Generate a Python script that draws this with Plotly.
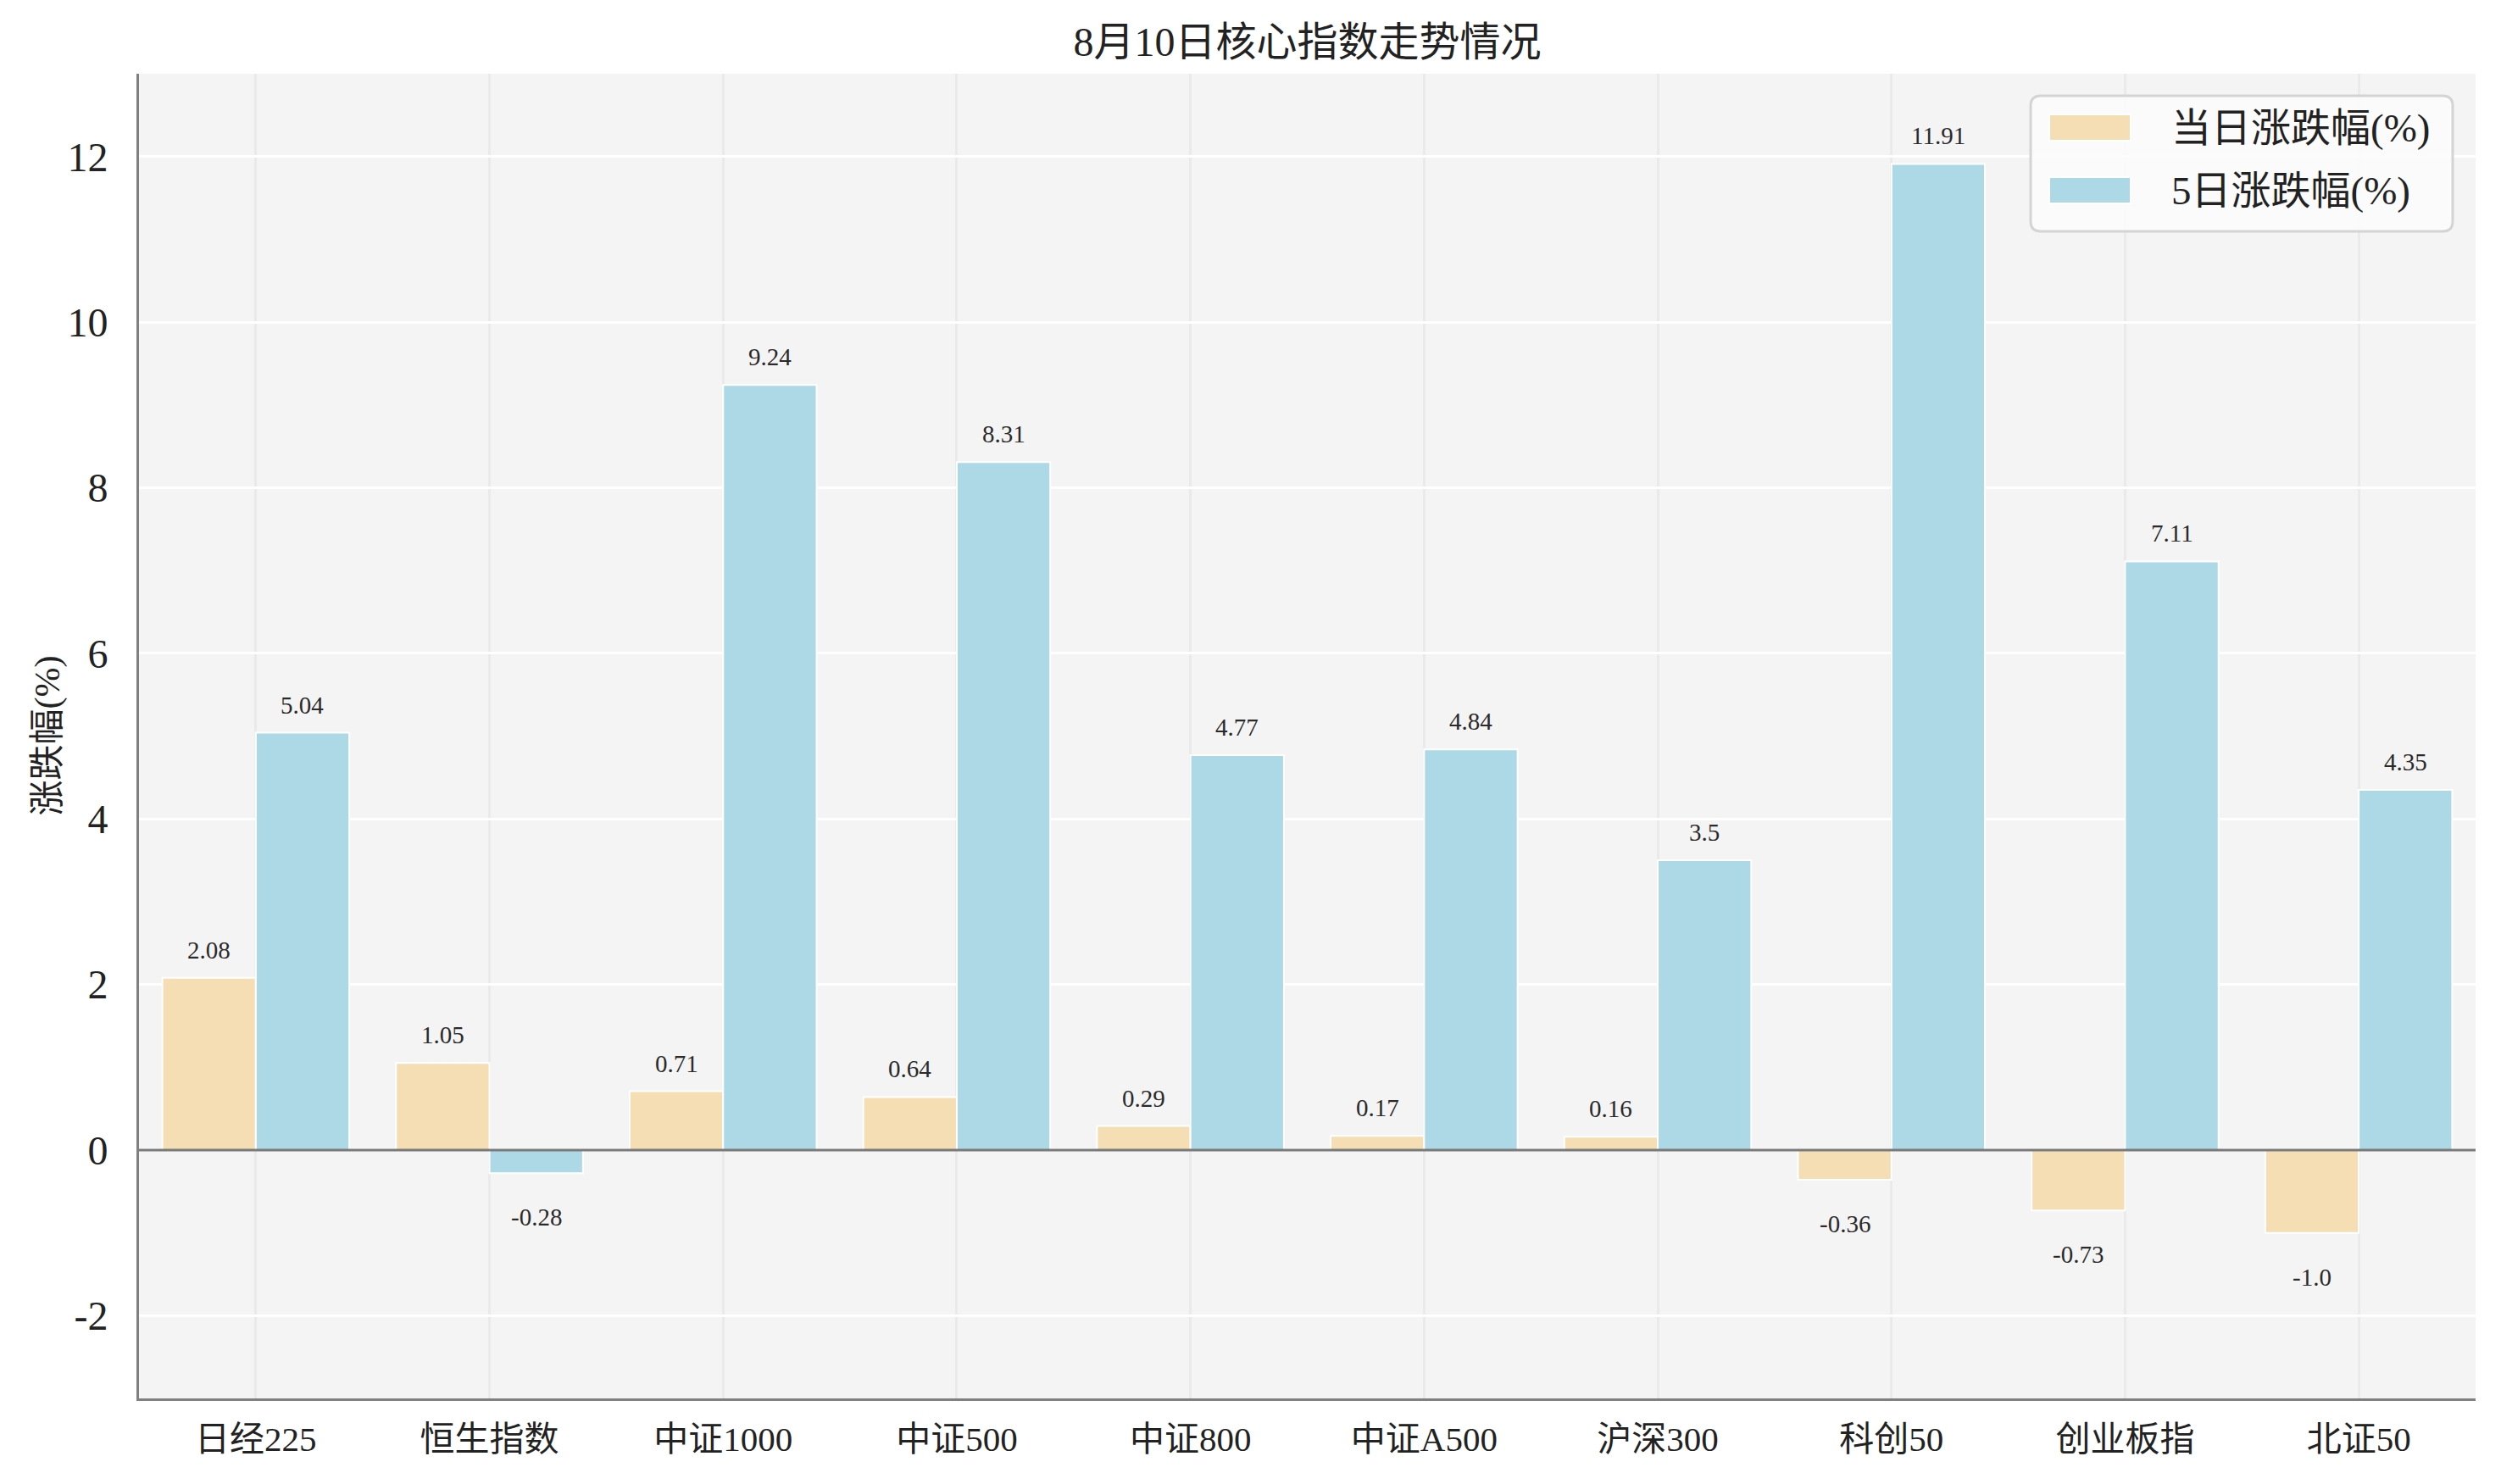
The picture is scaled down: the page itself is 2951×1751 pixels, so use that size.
import plotly.graph_objects as go

# 数据
categories = ['日经225', '恒生指数', '中证1000', '中证500', '中证800',
              '中证A500', '沪深300', '科创50', '创业板指', '北证50']
day_change = [2.08, 1.05, 0.71, 0.64, 0.29, 0.17, 0.16, -0.36, -0.73, -1.0]
five_day_change = [5.04, -0.28, 9.24, 8.31, 4.77, 4.84, 3.5, 11.91, 7.11, 4.35]
series_names = ['当日涨跌幅(%)', '5日涨跌幅(%)']
series_colors = ['#F5DEB3', '#ADD8E6']
y_ticks = [-2, 0, 2, 4, 6, 8, 10, 12]

FONT = 'Liberation Serif, Noto Sans CJK SC'
W, H = 2951, 1751
OFF = 8  # 页面 body 默认 8px 边距
# 目标屏幕像素: 绘图区 164..2921 x 87..1650
L, R, T, B = 164 - OFF, 30 + OFF, 87 - OFF, 101 + OFF
x_pos = list(range(len(categories)))

fig = go.Figure()
for values, name, color, off in ((day_change, series_names[0], series_colors[0], -0.4),
                                 (five_day_change, series_names[1], series_colors[1], 0)):
    fig.add_trace(go.Bar(x=x_pos, y=values, name=name, width=0.4, offset=off,
                         marker=dict(color=color, line=dict(color='white', width=2)),
                         showlegend=False))

# 数值标签
for series, dx in ((day_change, -0.2), (five_day_change, 0.2)):
    for i, v in enumerate(series):
        fig.add_annotation(x=i + dx, y=v, text=str(v), showarrow=False,
                           yanchor='bottom' if v >= 0 else 'top',
                           yshift=15 if v >= 0 else -34,
                           font=dict(family=FONT, size=29, color='#2a2a2a'))

# 0 轴线画在柱子上面
fig.add_shape(type='line', xref='paper', yref='y', x0=0, x1=1, y0=0, y1=0,
              line=dict(color='#7a7a7a', width=3), layer='above')


# 屏幕像素 -> paper 坐标
def px(xp):
    return (xp - 164) / (2921 - 164)


def py(yp):
    return (1650 - yp) / (1650 - 87)


# y 轴标题
fig.add_annotation(xref='paper', yref='paper', x=px(56), y=0.5, text='涨跌幅(%)',
                   textangle=-90, showarrow=False, xanchor='center', yanchor='middle',
                   font=dict(family=FONT, size=42, color='#222222'))

# 手工图例
x0, x1, y0, y1 = px(2396), px(2894), py(113), py(273)
rx, ry = 12 / (2921 - 164), 12 / (1650 - 87)
fig.add_shape(type='path', xref='paper', yref='paper', layer='above',
              path=(f'M {x0 + rx},{y0} L {x1 - rx},{y0} Q {x1},{y0} {x1},{y0 - ry} '
                    f'L {x1},{y1 + ry} Q {x1},{y1} {x1 - rx},{y1} L {x0 + rx},{y1} '
                    f'Q {x0},{y1} {x0},{y1 + ry} L {x0},{y0 - ry} Q {x0},{y0} {x0 + rx},{y0} Z'),
              fillcolor='rgba(252,252,252,0.9)', line=dict(color='#D4D4D4', width=3))
for k, (name, color) in enumerate(zip(series_names, series_colors)):
    top = 135 + k * 74
    fig.add_shape(type='rect', xref='paper', yref='paper', layer='above',
                  x0=px(2418), x1=px(2514), y0=py(top), y1=py(top + 31),
                  fillcolor=color, line=dict(color='white', width=2))
    fig.add_annotation(xref='paper', yref='paper', x=px(2560), y=py(top + 16),
                       xanchor='left', yanchor='middle', text=name, showarrow=False,
                       font=dict(family=FONT, size=47, color='#222222'))

fig.update_layout(
    width=W, height=H,
    margin=dict(l=L, r=R, t=T, b=B),
    paper_bgcolor='white', plot_bgcolor='#F4F4F4',
    barmode='overlay',
    title=dict(text='8月10日核心指数走势情况', x=0.5, xanchor='center', xref='paper',
               y=1 - (49 - OFF) / H, yanchor='middle', yref='container',
               font=dict(family=FONT, size=48, color='#222222')),
    font=dict(family=FONT, color='#222222'),
    showlegend=False,
)
fig.update_xaxes(range=[-0.5, 9.5], tickvals=x_pos, ticktext=categories,
                 tickfont=dict(family=FONT, size=41), showgrid=True,
                 gridcolor='#EAEAEA', gridwidth=3, showline=True,
                 linecolor='#808080', linewidth=3, ticks='', zeroline=False,
                 automargin=False, ticklabelstandoff=10)
fig.update_yaxes(range=[-3, 13], tickvals=y_ticks, ticktext=[str(t) for t in y_ticks],
                 tickfont=dict(family=FONT, size=48),
                 showgrid=True, gridcolor='white', gridwidth=3,
                 showline=True, linecolor='#808080', linewidth=3, ticks='',
                 zeroline=False, automargin=False, ticklabelstandoff=24)

fig.write_html("out.html")
